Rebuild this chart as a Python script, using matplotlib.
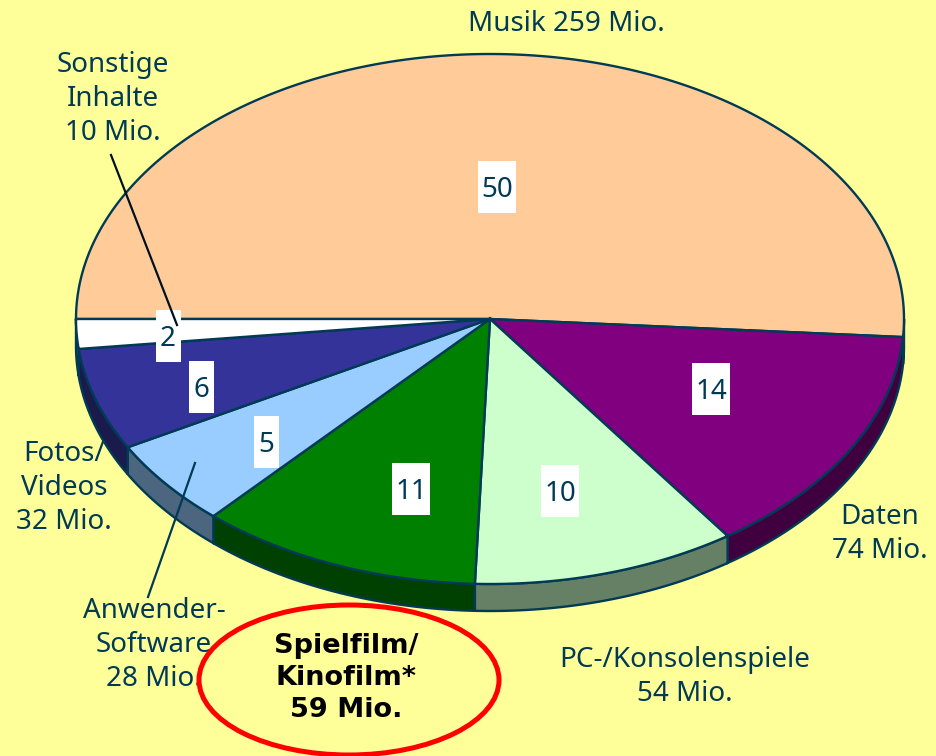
import numpy as np
import matplotlib
matplotlib.use("Agg")
import matplotlib.pyplot as plt
from matplotlib.patches import Ellipse, Polygon, Rectangle

plt.rcParams["font.family"] = ["Noto Sans", "DejaVu Sans"]

# slice sizes as drawn in the picture (in Mio.), clockwise from the left edge
categories = ["Musik", "Daten", "PC-/Konsolenspiele", "Spielfilm", "Anwender-Software", "Fotos/Videos", "Sonstige"]
slice_sizes = [263.6, 73.2, 53.2, 57.1, 27.4, 32.2, 9.3]
percent_labels = ["50", "14", "10", "11", "5", "6", "2"]
slice_colors = ["#FFCC99", "#800080", "#CCFFCC", "#008000", "#99CCFF", "#333399", "#FFFFFF"]
wall_colors = ["#7F6640", "#400040", "#668066", "#004000", "#4C667F", "#1A1A4C", "#808080"]

bg_color = "#FFFF99"
edge_color = "#003A55"
text_color = "#003A55"

cx, cy, rx, ry = 490, 319, 414, 265
depth = 27


def arc(a0, a1, shift=0):
    t = np.radians(np.linspace(a0, a1, 200))
    return np.column_stack([cx + rx * np.cos(t), cy - ry * np.sin(t) + shift])


fig = plt.figure(figsize=(9.36, 7.56), dpi=100, facecolor=bg_color)
ax = fig.add_axes([0, 0, 1, 1])
ax.set_xlim(0, 936)
ax.set_ylim(756, 0)
ax.axis("off")

sweeps = np.array(slice_sizes) / sum(slice_sizes) * 360
ends = 180 - np.cumsum(sweeps)
starts = ends + sweeps

# side walls first, only the part in the lower half of the ellipse is visible
for a0, a1, wall in zip(starts, ends, wall_colors):
    hi = min(a0, 0)
    if a1 >= 0 and a0 >= 0:
        continue
    lo = max(a1, -180)
    top = arc(hi, lo)
    bottom = arc(lo, hi, depth)
    ax.add_patch(Polygon(np.vstack([top, bottom]), closed=True, facecolor=wall,
                         edgecolor=edge_color, linewidth=1.7, zorder=2))

# top faces
for a0, a1, col in zip(starts, ends, slice_colors):
    pts = np.vstack([[cx, cy], arc(a0, a1)])
    ax.add_patch(Polygon(pts, closed=True, facecolor=col, edgecolor=edge_color,
                         linewidth=1.7, zorder=3))

# white boxes with the percent values
box_centers = [(497, 187), (711, 389), (560, 491), (411, 489), (266, 442), (201, 387), (168, 336)]
for (x, y), lab in zip(box_centers, percent_labels):
    w = 38 if len(lab) == 2 else 25
    ax.add_patch(Rectangle((x - w / 2, y - 26), w, 52, facecolor="white", edgecolor="none", zorder=4))
    ax.text(x, y + 3, lab, ha="center", va="center", fontsize=20, color=text_color, zorder=5)

# leader lines
ax.plot([111, 177], [155, 325], color="#001122", linewidth=1.6, zorder=6)
ax.plot([195, 148], [463, 597], color=edge_color, linewidth=1.6, zorder=6)

outer_labels = [
    (566, 24, "Musik 259 Mio."),
    (113, 99, "Sonstige\nInhalte\n10 Mio."),
    (64, 488, "Fotos/\nVideos\n32 Mio."),
    (154, 645, "Anwender-\nSoftware\n28 Mio."),
    (685, 677, "PC-/Konsolenspiele\n54 Mio."),
    (880, 534, "Daten\n74 Mio."),
]
for x, y, lab in outer_labels:
    ax.text(x, y, lab, ha="center", va="center", fontsize=20, color=text_color,
            linespacing=1.27, zorder=5)

ax.text(346, 678, "Spielfilm/\nKinofilm*\n59 Mio.", ha="center", va="center", fontsize=19.5,
        fontweight="bold", family=["DejaVu Sans"], color="#000000", linespacing=1.3, zorder=7)
ax.add_patch(Ellipse((349, 680), 300, 150, facecolor="none", edgecolor="#FF0000", linewidth=3.6, zorder=6))

fig.savefig("out.png", dpi=100, facecolor=bg_color)
